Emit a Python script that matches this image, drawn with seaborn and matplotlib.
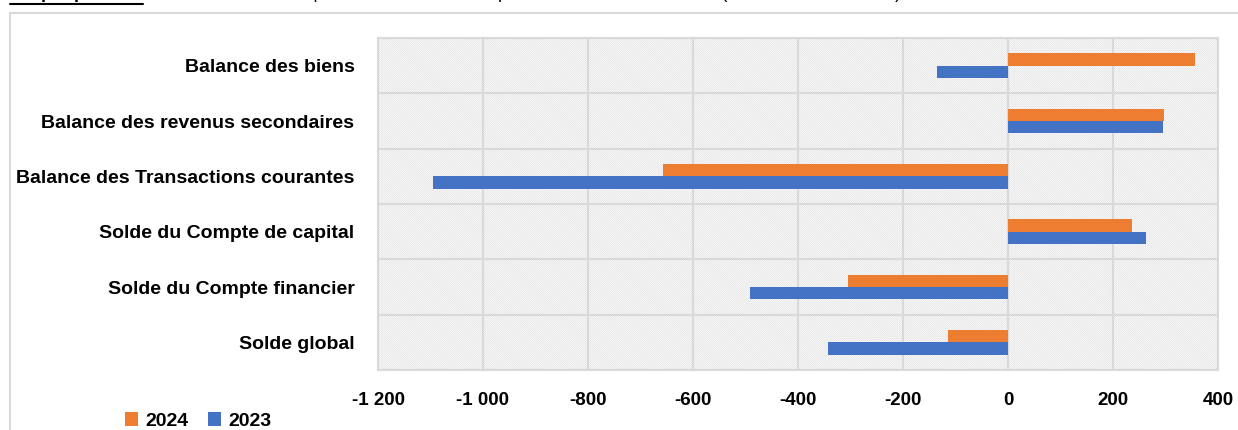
import numpy as np
import pandas as pd
import seaborn as sns
import matplotlib.pyplot as plt
from matplotlib.patches import Rectangle
from matplotlib.lines import Line2D
from matplotlib.ticker import FuncFormatter

# Data (milliards de FCFA)
postes = ["Balance des biens", "Balance des revenus secondaires",
          "Balance des Transactions courantes", "Solde du Compte de capital",
          "Solde du Compte financier", "Solde global"]
val_2024 = [356, 297, -657, 236, -305, -114]
val_2023 = [-135, 295, -1095, 263, -491, -343]
annees = ["2024", "2023"]
couleurs = {"2024": "#ED7D31", "2023": "#4472C4"}

df = pd.DataFrame({
    "poste": postes * 2,
    "valeur": val_2024 + val_2023,
    "annee": ["2024"] * len(postes) + ["2023"] * len(postes),
})

sns.set_style("white")
plt.rcParams["font.family"] = ["Liberation Sans", "DejaVu Sans"]
plt.rcParams["hatch.linewidth"] = 0.5
plt.rcParams["text.color"] = "black"
plt.rcParams["xtick.color"] = "black"
plt.rcParams["ytick.color"] = "black"

grid_col = "#D9D9D9"
W, H = 1238, 430
fig = plt.figure(figsize=(W / 100, H / 100), dpi=100)
ax = fig.add_axes([378 / W, 1 - 370 / H, (1218 - 378) / W, (370 - 38) / H])

# hatched plot area
ax.add_patch(Rectangle((0, 0), 1, 1, transform=ax.transAxes, facecolor="white",
                       edgecolor="#DEDEDE", hatch="\\" * 16, lw=0, zorder=0))

sns.barplot(data=df, y="poste", x="valeur", hue="annee", hue_order=annees,
            palette=couleurs, orient="h", width=0.45, saturation=1, ax=ax, zorder=2,
            linewidth=0, edgecolor="none")

ax.set_xlim(-1200, 400)
ax.set_ylim(5.5, -0.5)
ax.set_xticks(np.arange(-1200, 401, 200))
ax.xaxis.set_major_formatter(FuncFormatter(lambda v, p: f"{v:,.0f}".replace(",", " ")))
ax.set_yticks(np.arange(-0.5, 6, 1), minor=True)
ax.set_axisbelow(True)
ax.grid(axis="x", which="major", color=grid_col, lw=1.5)
ax.grid(axis="y", which="minor", color=grid_col, lw=1.5)
ax.grid(axis="y", which="major", visible=False)
ax.tick_params(axis="both", which="both", length=0)
ax.tick_params(axis="x", pad=16, labelsize=13.5)
ax.tick_params(axis="y", pad=17, labelsize=14)
for lab in ax.get_xticklabels() + ax.get_yticklabels():
    lab.set_fontweight("bold")
ax.set_xlabel("")
ax.set_ylabel("")
for s in ax.spines.values():
    s.set_visible(True)
    s.set_color(grid_col)
    s.set_linewidth(1.5)

handles, labels = ax.get_legend_handles_labels()
ax.get_legend().remove()
fig.legend(handles, labels, loc="center", bbox_to_anchor=(198 / W, 1 - 421 / H),
           ncol=2, frameon=False, handlelength=0.7, handleheight=0.7,
           handletextpad=0.35, columnspacing=1.0,
           prop={"weight": "bold", "size": 14})

# outer chart frame
fig.patches.append(Rectangle((10 / W, -0.1), 1.2, 1.1 - 13 / H, transform=fig.transFigure,
                             fill=False, edgecolor=grid_col, lw=1.5))

# title (cut off at top)
fig.text(10 / W, 1 + 2 / H, "Graphique 6 :", fontsize=13, fontweight="bold",
         va="baseline", ha="left")
fig.add_artist(Line2D([10 / W, 143 / W], [1 - 4 / H, 1 - 4 / H], color="black",
                      lw=1.5, transform=fig.transFigure))
fig.text(160 / W, 1 + 2 / H,
         "Soldes caractéristiques de la balance des paiements en 2023 et 2024 (en milliards de FCFA)",
         fontsize=13, va="baseline", ha="left")

fig.savefig("out.png", dpi=100)
